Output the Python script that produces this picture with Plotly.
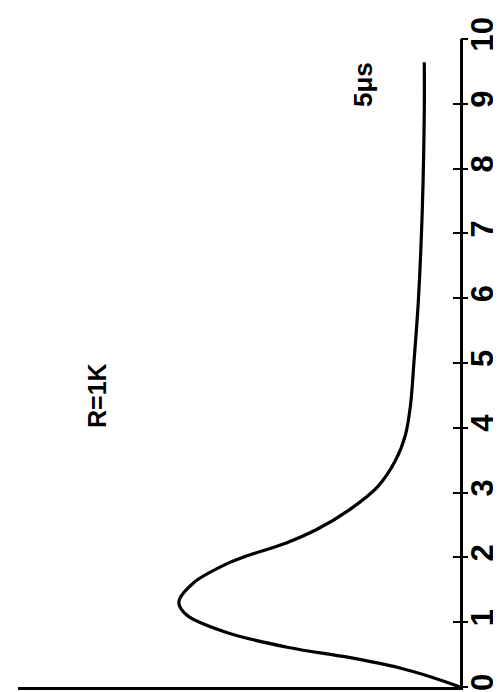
import plotly.graph_objects as go

# Data read from the (rotated) reference: time in microseconds vs relative amplitude
time_us = [0, 0.15, 0.30, 0.46, 0.61, 0.84, 1.11, 1.31, 1.61, 1.90, 2.02, 2.22,
           2.43, 2.73, 3.08, 3.49, 3.89, 4.35, 5.00, 5.97, 7.38, 8.89, 9.64]
amplitude = [0, 10.0, 22.0, 40.0, 61.0, 83.0, 97.2, 100, 94.7, 83.0, 76.0, 62.0,
             51.0, 39.5, 29.5, 23.0, 19.4, 17.6, 16.4, 14.8, 13.4, 12.7, 12.7]
tick_vals = list(range(0, 11))
tick_text = [str(v) for v in tick_vals]
label_R = "R=1K"
label_time = "5μs"

FONT = "Liberation Sans"

fig = go.Figure()
fig.add_trace(go.Scatter(
    x=amplitude, y=time_us, mode="lines",
    line=dict(color="black", width=3.2, shape="spline", smoothing=0.9),
    hoverinfo="skip", showlegend=False,
))
# invisible trace to activate the second (outside-tick) axis
fig.add_trace(go.Scatter(x=[0], y=[0], yaxis="y2", mode="markers",
                         marker=dict(opacity=0), showlegend=False, hoverinfo="skip"))

fig.update_layout(
    width=501, height=692,
    margin=dict(l=10, r=46, t=24, b=9),
    paper_bgcolor="white", plot_bgcolor="white",
    xaxis=dict(range=[157.2, 0], showgrid=False, zeroline=False,
               showline=True, linecolor="black", linewidth=2.5,
               showticklabels=False, ticks=""),
    yaxis=dict(range=[0, 10], side="right", showgrid=False, zeroline=False,
               showline=True, linecolor="black", linewidth=2.5,
               tickvals=tick_vals, ticktext=tick_text,
               ticks="inside", ticklen=7, tickwidth=2, tickcolor="black",
               tickangle=-90, ticklabelstandoff=-7,
               tickfont=dict(family=FONT, size=31, color="black", weight="bold")),
    yaxis2=dict(range=[0, 10], side="right", overlaying="y", anchor="x",
                showgrid=False, zeroline=False, showline=False,
                tickvals=tick_vals, ticks="outside", ticklen=7, tickwidth=2,
                tickcolor="black", showticklabels=False),
    annotations=[
        dict(x=0.18, y=0.45, xref="paper", yref="paper", text=label_R,
             xanchor="center", yanchor="middle",
             showarrow=False, textangle=-90,
             font=dict(family=FONT, size=25, color="black", weight="bold")),
        dict(x=0.782, y=0.93, xref="paper", yref="paper", text=label_time,
             xanchor="center", yanchor="middle",
             showarrow=False, textangle=-90,
             font=dict(family=FONT, size=26, color="black", weight="bold")),
    ],
)

fig.write_html("out.html")
